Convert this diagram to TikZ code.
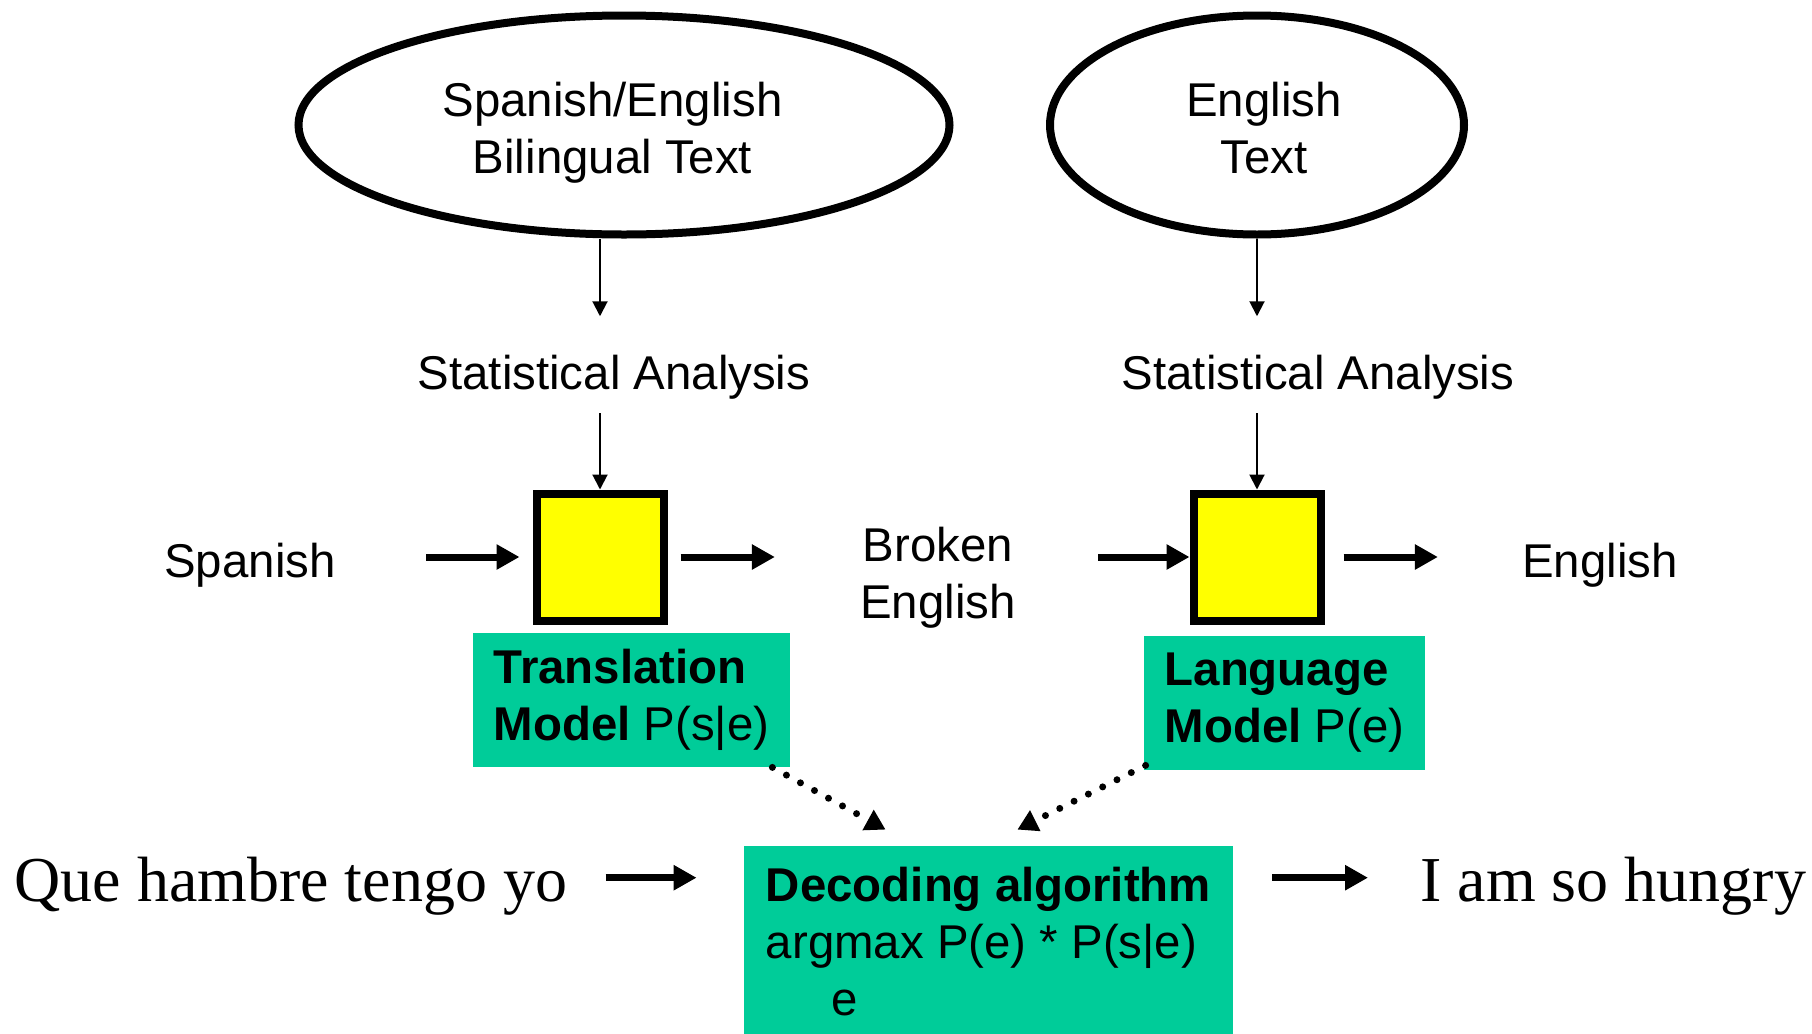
\documentclass[tikz,border=0pt]{standalone}
\usepackage{fontspec}
\setmainfont{Liberation Sans}
\newfontfamily\timesfont{Liberation Serif}
\usetikzlibrary{arrows.meta,shapes.geometric}
\definecolor{modelgreen}{HTML}{00CC99}
\definecolor{boxyellow}{HTML}{FFFF00}

\begin{document}
\begin{tikzpicture}[x=0.5pt,y=-0.5pt]
\tikzstyle{corpus}=[ellipse, draw, line width=4pt, minimum height=109.5pt, align=center, font=\fontsize{23.7}{28.5}\selectfont]
\tikzstyle{plain}=[inner sep=0pt, align=center, font=\fontsize{23.7}{28.5}\selectfont]
\tikzstyle{square}=[rectangle, draw, line width=4pt, fill=boxyellow, minimum size=63.5pt]
\tikzstyle{model}=[rectangle, fill=modelgreen, align=left, inner sep=0pt, minimum height=67pt, font=\fontsize{23.7}{28.5}\selectfont]
\tikzstyle{sentence}=[inner sep=0pt, anchor=base west, font=\timesfont\fontsize{32}{38}\selectfont]
\tikzstyle{thinarrow}=[line width=1pt, -{Triangle[width=7.5pt,length=7.5pt]}]
\tikzstyle{thickarrow}=[line width=3.5pt, -{Triangle[width=12pt,length=11.5pt]}]
\tikzstyle{dotarrow}=[line width=3.5pt, line cap=round, dash pattern=on 0pt off 8pt, -{Triangle[width=11pt,length=10pt]}]
\useasboundingbox (0,0) rectangle (1812,1034);

    \node[corpus, minimum width=325.5pt] (ell1) at (624,125)
    {\rule{0pt}{25pt}Spanish/English\hspace*{11.5pt}\\Bilingual Text\hspace*{11.5pt}};
    \node[corpus, minimum width=207pt] (ell2) at (1257,125)
    {\rule{0pt}{25pt}\hspace*{7pt}English\\\hspace*{7pt}Text\rule[-5pt]{0pt}{1pt}};

    \node[plain, anchor=base] (stat1) at (614,389) {Statistical Analysis};
    \node[plain, anchor=base] (stat2) at (1318,389) {Statistical Analysis};

    \node[square] (box1) at (600,557) {};
    \node[square] (box2) at (1257,557) {};

    \node[plain] (spanish) at (250,565) {Spanish};
    \node[plain] (broken) at (938,578) {Broken\\English};
    \node[plain] (english) at (1600,565) {English};

    \node[model, minimum width=158.5pt] (trans) at (631.5,700) {\textbf{Translation}\\\textbf{Model} P(s|e)};
    \node[model, minimum width=140.5pt] (lang) at (1284.5,703) {\textbf{Language}\\\textbf{Model} P(e)};
    \node[model, minimum width=244.5pt, minimum height=96pt] (dec) at (988.5,942)
    {\textbf{Decoding algorithm}\\argmax P(e) * P(s|e)\\\hspace*{1.39em}e};

    \node[sentence] (que) at (14,901) {Que hambre tengo yo};
    \node[sentence] (hungry) at (1420,901) {I am so hungry};

\draw[thinarrow, shorten >=19pt] (ell1.south -| box1.north) -- (stat1.north -| box1.north);
\draw[thinarrow, shorten >=19pt] (ell2.south -| box2.north) -- (stat2.north -| box2.north);
\draw[thinarrow, shorten <=7pt] (stat1.south -| box1.north) -- (box1.north);
\draw[thinarrow, shorten <=7pt] (stat2.south -| box2.north) -- (box2.north);

\draw[thickarrow, shorten <=45pt, shorten >=6.5pt] (spanish.east |- box1.west) -- (box1.west);
\draw[thickarrow, shorten <=6.5pt, shorten >=42.5pt] (box1.east) -- (box1.east -| broken.west);
\draw[thickarrow, shorten <=41pt] (broken.east |- box2.west) -- (box2.west);
\draw[thickarrow, shorten <=9.5pt, shorten >=42pt] (box2.east) -- (box2.east -| english.west);

\draw[dotarrow] ([xshift=-9pt]trans.south east) -- ([xshift=71pt,yshift=8pt]dec.north west);
\draw[dotarrow] ([xshift=1pt,yshift=2.5pt]lang.south west) -- ([xshift=-108pt,yshift=8pt]dec.north east);

\draw[thickarrow, shorten <=19pt, shorten >=23.5pt] ([yshift=4pt]que.east) -- ([yshift=4pt]que.east -| dec.west);
\draw[thickarrow, shorten <=19.5pt, shorten >=26pt] ([yshift=4pt]hungry.west -| dec.east) -- ([yshift=4pt]hungry.west);
\end{tikzpicture}
\end{document}
